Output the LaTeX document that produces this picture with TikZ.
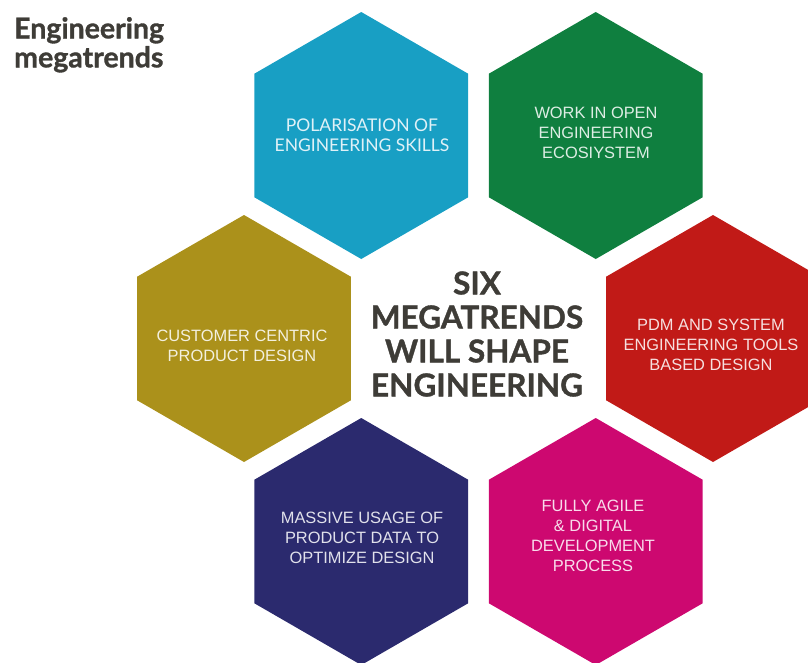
\documentclass[tikz,border=0pt]{standalone}
\usepackage{fontspec}
\setmainfont{Liberation Sans}
\newfontfamily\latofont{Lato}
\newfontfamily\latoheavy{Lato}[BoldFeatures={FakeBold=1.2}]
\usetikzlibrary{shapes.geometric}
\definecolor{hexblue}{HTML}{189FC4}
\definecolor{hexgreen}{HTML}{0F7F3F}
\definecolor{hexolive}{HTML}{AB911B}
\definecolor{hexred}{HTML}{C11A17}
\definecolor{hexnavy}{HTML}{2B2A6E}
\definecolor{hexmagenta}{HTML}{CD0870}
\definecolor{inkgray}{HTML}{3E3C37}
\tikzset{
  hexcell/.style={regular polygon, regular polygon sides=6, shape border rotate=30,
    minimum size=247pt, inner sep=0pt, draw=none, fill=#1},
  celltext/.style={text=white!86!#1, align=center, font=\fontsize{16.4}{20}\selectfont},
}
\begin{document}
\begin{tikzpicture}[x=1pt,y=-1pt]
\useasboundingbox (0,0) rectangle (808,662);
% honeycomb around the central statement
\coordinate (core) at (478.5,338.5);
\node[hexcell=hexblue]    (skills)   at (361.25,135.5) {};
\node[hexcell=hexgreen]   (eco)      at (595.75,135.5) {};
\node[hexcell=hexolive]   (customer) at (244,338.5) {};
\node[hexcell=hexred]     (pdm)      at (713,338.5) {};
\node[hexcell=hexnavy]    (data)     at (361.25,541.5) {};
\node[hexcell=hexmagenta] (agile)    at (595.75,541.5) {};
% trend labels
\node[celltext=hexblue, font=\latofont\fontsize{17.5}{20}\selectfont] (tskills) at (362,135) {POLARISATION OF\\ENGINEERING SKILLS};
\node[celltext=hexgreen]   (teco)      at (596,133) {WORK IN OPEN\\ENGINEERING\\ECOSIYSTEM};
\node[celltext=hexolive]   (tcustomer) at (242,346) {CUSTOMER CENTRIC\\PRODUCT DESIGN};
\node[celltext=hexred]     (tpdm)      at (711,345) {PDM AND SYSTEM\\ENGINEERING TOOLS\\BASED DESIGN};
\node[celltext=hexnavy]    (tdata)     at (362,538) {MASSIVE USAGE OF\\PRODUCT DATA TO\\OPTIMIZE DESIGN};
\node[celltext=hexmagenta] (tagile)    at (593,536) {FULLY AGILE\\\& DIGITAL\\DEVELOPMENT\\PROCESS};
% central statement and heading
\node[text=inkgray, align=center, font=\latoheavy\bfseries\fontsize{31.5}{34}\selectfont] (headline) at (477,334)
  {SIX\\MEGATRENDS\\WILL SHAPE\\ENGINEERING};
\node[text=inkgray, align=left, anchor=north west, inner sep=0pt,
  font=\latoheavy\bfseries\fontsize{28.5}{29}\selectfont] (title) at (14,17) {Engineering\\megatrends};
\end{tikzpicture}
\end{document}
